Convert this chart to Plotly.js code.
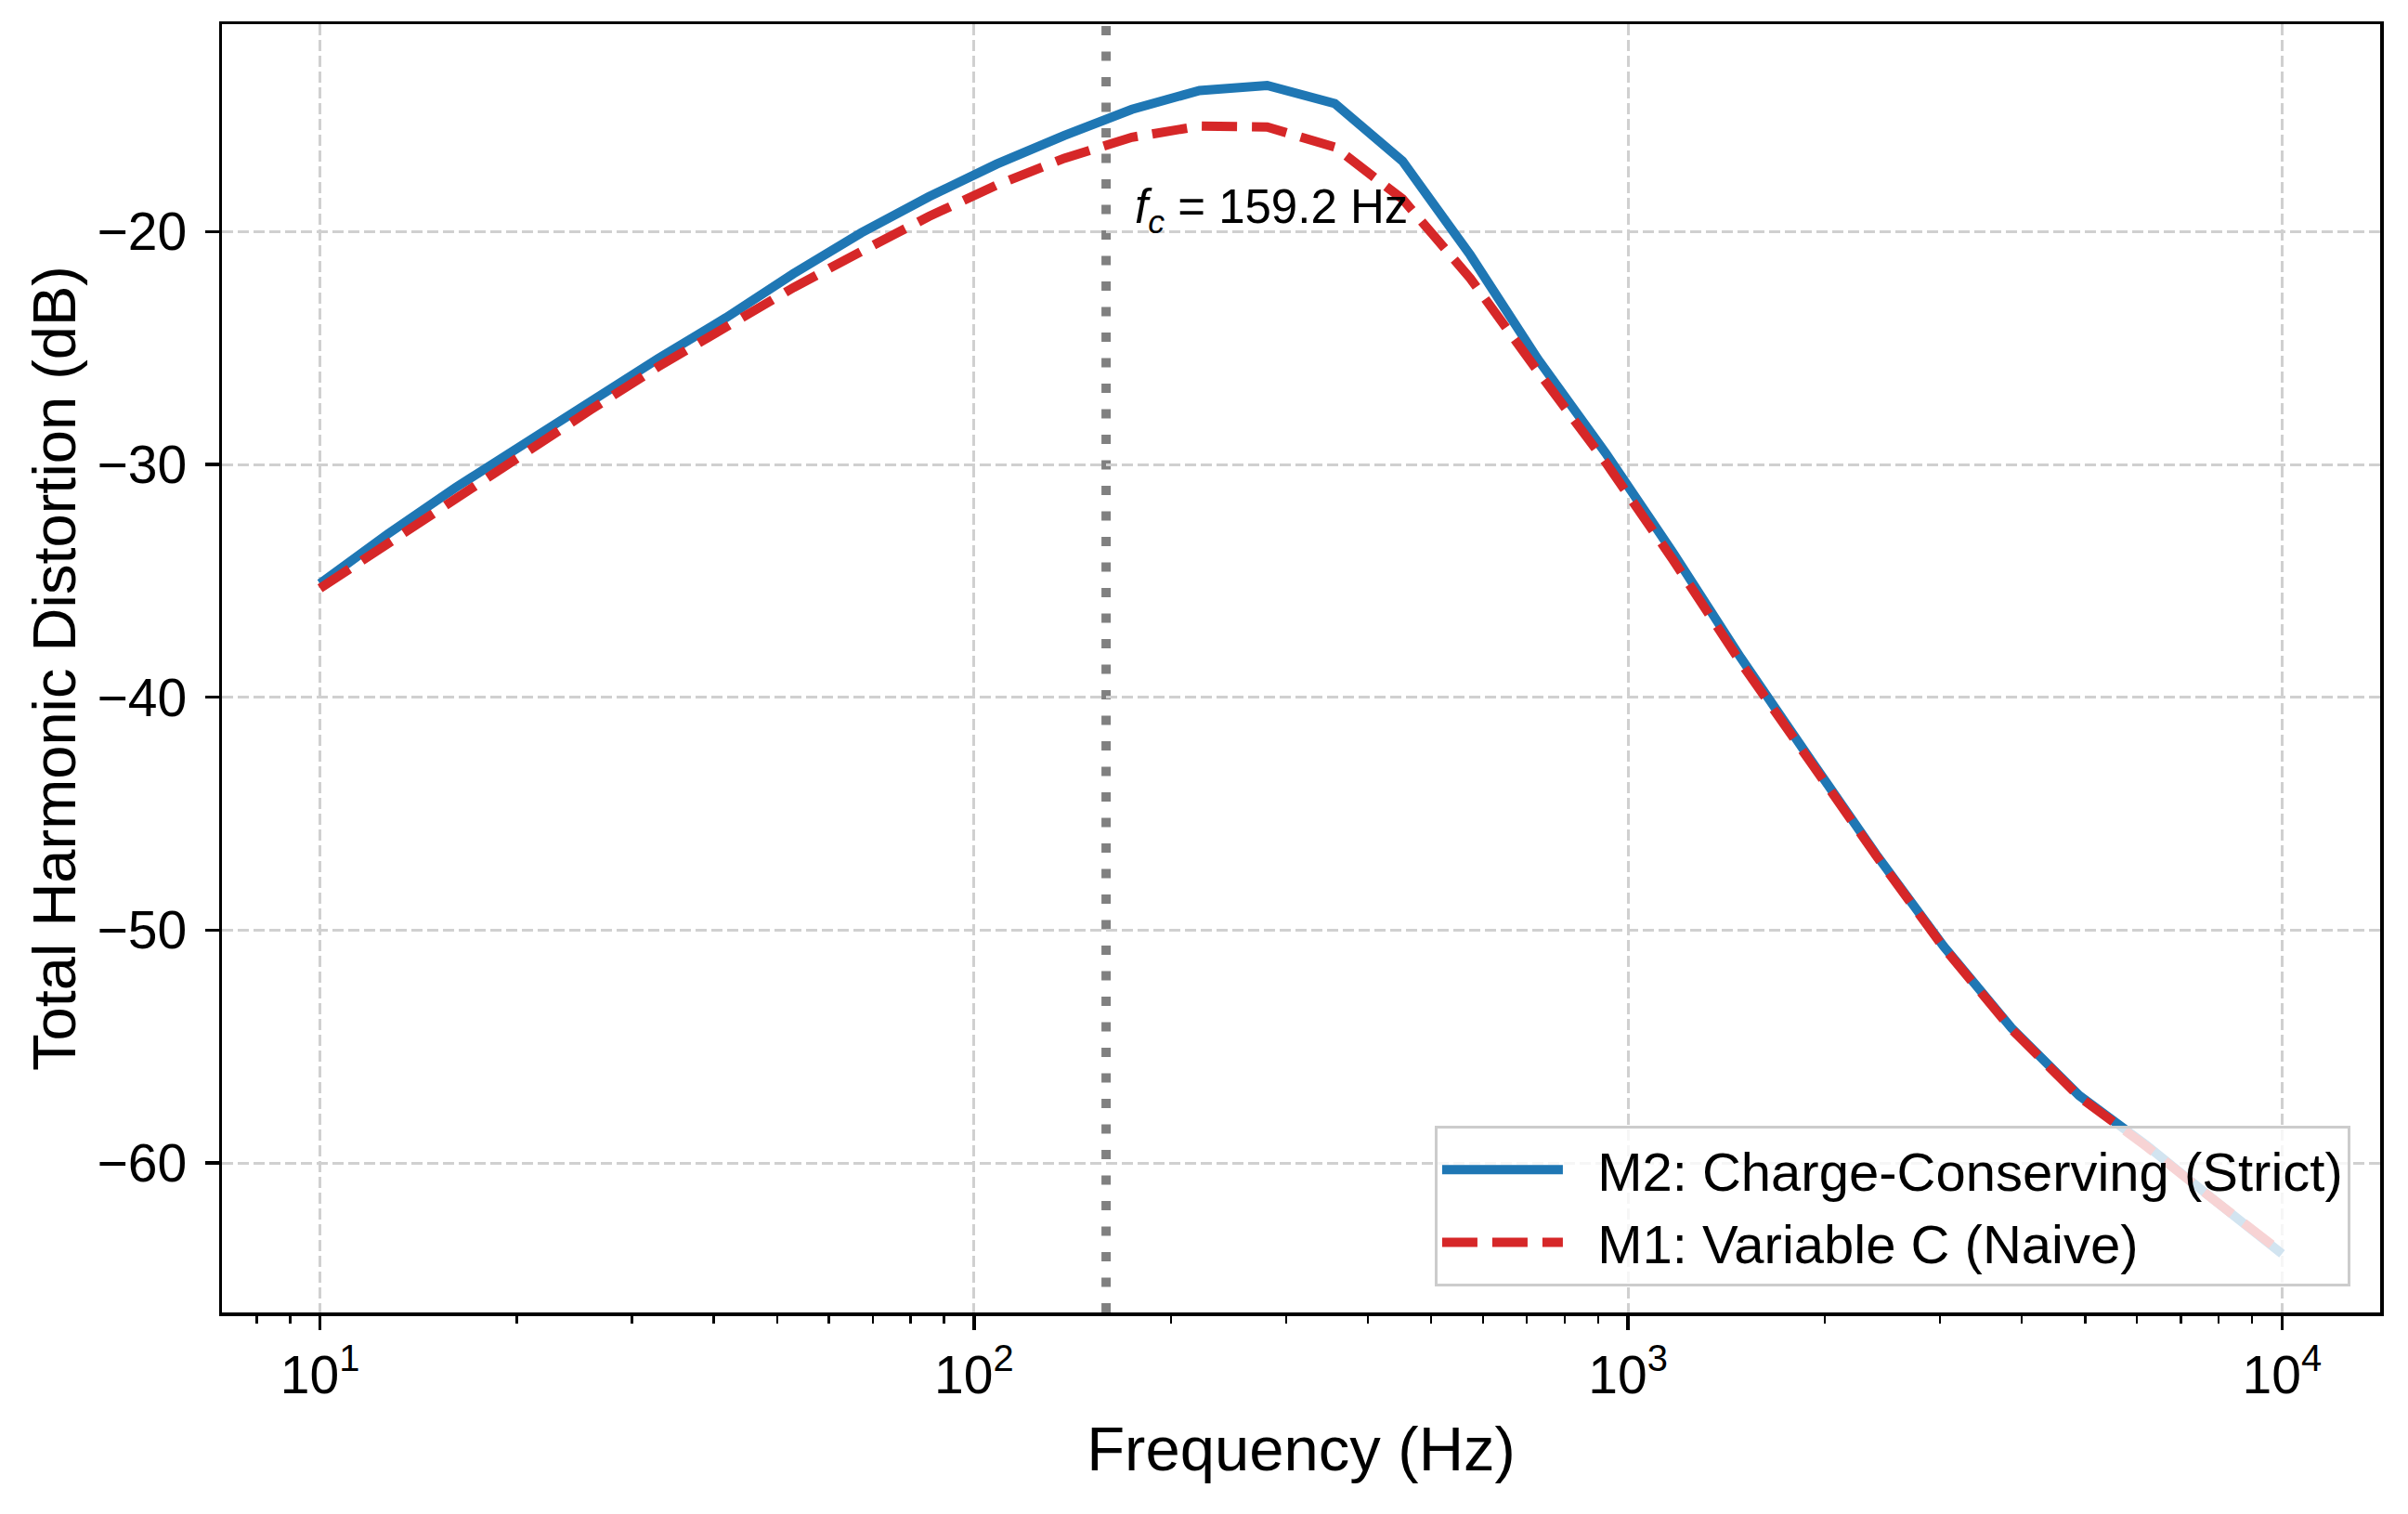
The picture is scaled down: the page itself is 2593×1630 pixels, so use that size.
<!DOCTYPE html>
<html>
<head>
<meta charset="utf-8">
<script src="https://cdn.plot.ly/plotly-3.0.1.min.js"></script>
<style>
  body { margin: 0; background: #fff; overflow: hidden; }
  #thdChart { width: 2593px; height: 1630px; }
</style>
</head>
<body>
<div id="thdChart"></div>
<script>
// frequency sweep (Hz), 30 log-spaced points
const freqHz = [10, 12.69, 16.10, 20.43, 25.93, 32.90, 41.75, 52.98, 67.23, 85.32,
  108.3, 137.4, 174.3, 221.2, 280.7, 356.2, 452.0, 573.6, 727.9, 923.7,
  1172, 1487, 1887, 2395, 3039, 3857, 4894, 6210, 7880, 10000];

// THD in dB
const thdStrict = [-35.12, -32.99, -31.0, -29.12, -27.25, -25.45, -23.7, -21.8, -20.05, -18.5,
  -17.1, -15.87, -14.75, -13.94, -13.72, -14.5, -16.97, -21.0, -25.48, -29.5,
  -33.8, -38.3, -42.55, -46.75, -50.7, -54.2, -57.1, -59.25, -61.6, -63.9];
const thdNaive = [-35.32, -33.4, -31.4, -29.6, -27.65, -25.8, -24.1, -22.4, -20.85, -19.35,
  -18.0, -16.85, -15.95, -15.47, -15.51, -16.37, -18.6, -22.0, -26.0, -29.9,
  -34.1, -38.5, -42.65, -46.8, -50.75, -54.25, -57.15, -59.3, -61.6, -63.85];

const seriesNames = ["M2: Charge-Conserving (Strict)", "M1: Variable C (Naive)"];
const cornerFreq = 159.2;

const xTickVals = [10, 100, 1000, 10000];
const xTickText = ["10<sup>1</sup>", "10<sup>2</sup>", "10<sup>3</sup>", "10<sup>4</sup>"];
const yTickVals = [-60, -50, -40, -30, -20];

const FONT = "Arial, 'Liberation Sans', Helvetica, sans-serif";
const GAP = "\u00A0\u00A0"; // room between legend line and label

var traceStrict = {
  x: freqHz,
  y: thdStrict,
  type: "scatter",
  mode: "lines",
  name: GAP + seriesNames[0],
  line: { color: "#1f77b4", width: 10 },
};

var traceNaive = {
  x: freqHz,
  y: thdNaive,
  type: "scatter",
  mode: "lines",
  name: GAP + seriesNames[1],
  line: { color: "#d62728", width: 10, dash: "38px,16px" },
};

var layout = {
  width: 2593,
  height: 1630,
  margin: { l: 239, r: 30, t: 26, b: 217 },
  paper_bgcolor: "#fff",
  plot_bgcolor: "#fff",
  font: { family: FONT, color: "#000", size: 57 },
  showlegend: true,
  xaxis: {
    type: "log",
    range: [0.85, 4.15],
    tickmode: "array",
    tickvals: xTickVals,
    ticktext: xTickText,
    ticks: "outside",
    ticklen: 15,
    tickwidth: 3.5,
    tickcolor: "#000",
    tickfont: { size: 57 },
    showline: true,
    mirror: true,
    linecolor: "#000",
    linewidth: 3.5,
    showgrid: true,
    gridcolor: "#d0d0d0",
    gridwidth: 3,
    griddash: "12px,5px",
    zeroline: false,
    minor: { dtick: "D1", ticks: "outside", ticklen: 8, tickwidth: 2.5, tickcolor: "#000", showgrid: false },
    title: { text: "Frequency (Hz)", font: { size: 67 }, standoff: 26 },
  },
  yaxis: {
    range: [-66.42, -11.09],
    tickmode: "array",
    tickvals: yTickVals,
    ticks: "outside",
    ticklen: 15,
    tickwidth: 3.5,
    tickcolor: "#000",
    tickfont: { size: 57 },
    ticklabelstandoff: 8,
    showline: true,
    mirror: true,
    linecolor: "#000",
    linewidth: 3.5,
    showgrid: true,
    gridcolor: "#d0d0d0",
    gridwidth: 3,
    griddash: "12px,5px",
    zeroline: false,
    title: { text: "Total Harmonic Distortion (dB)", font: { size: 65 }, standoff: 2 },
  },
  legend: {
    x: 0.9862,
    y: 0.0202,
    xanchor: "right",
    yanchor: "bottom",
    bgcolor: "rgba(255,255,255,0.8)",
    bordercolor: "#cccccc",
    borderwidth: 3,
    font: { size: 58 },
    itemwidth: 130,
    tracegroupgap: 0,
  },
  shapes: [
    {
      type: "line",
      layer: "between",
      xref: "x",
      yref: "paper",
      x0: cornerFreq,
      x1: cornerFreq,
      y0: 0,
      y1: 1,
      line: { color: "#808080", width: 10, dash: "10px,17.5px" },
    },
  ],
  annotations: [
    {
      xref: "x",
      yref: "y",
      x: Math.log10(cornerFreq * 1.1),
      y: -20,
      yshift: -12,
      xanchor: "left",
      yanchor: "bottom",
      showarrow: false,
      text: "<i>f</i><sub><i>c</i></sub> = " + cornerFreq.toFixed(1) + " Hz",
      font: { size: 51, color: "#000" },
    },
  ],
};

Plotly.newPlot("thdChart", [traceStrict, traceNaive], layout, { displayModeBar: false, staticPlot: true });
</script>
</body>
</html>
